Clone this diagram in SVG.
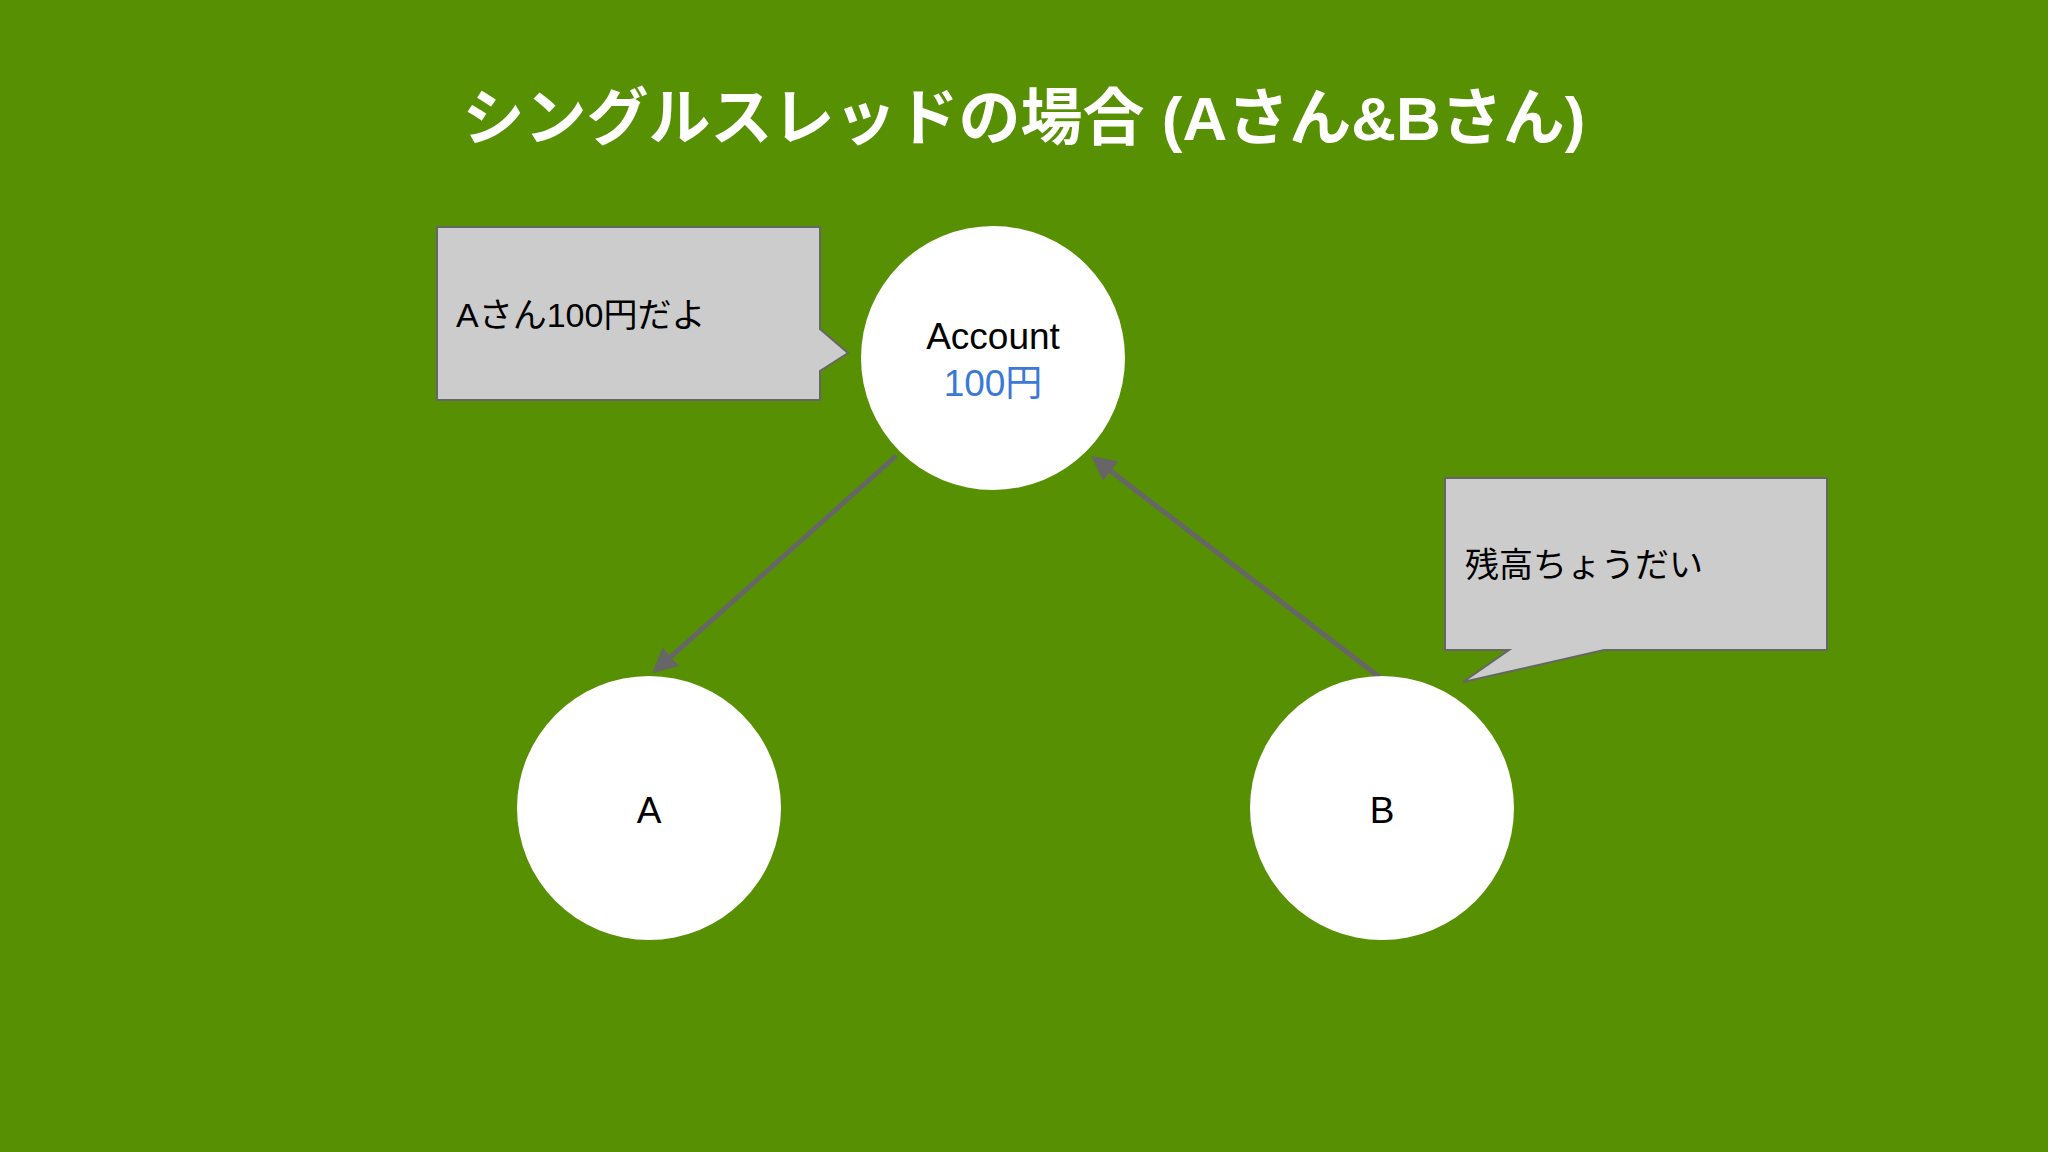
<svg xmlns="http://www.w3.org/2000/svg" width="2048" height="1152" viewBox="0 0 2048 1152">
<style>
.t{font-family:"Liberation Sans","Noto Sans CJK JP",sans-serif}
.c{fill:#fff}
.box{fill:#cccccc;stroke:#666;stroke-width:2}
.ln{stroke:#666;stroke-width:5;fill:none;marker-end:url(#ah)}
</style>
<defs><marker id="ah" viewBox="0 0 10 10" refX="8" refY="5" markerWidth="5" markerHeight="5" orient="auto"><path d="M0,0L10,5L0,10z" fill="#666"/></marker></defs>
<rect width="2048" height="1152" fill="#589003"/>
<text class="t" x="1024" y="140" text-anchor="middle" font-size="62" font-weight="bold" fill="#fff">シングルスレッドの場合 (Aさん&amp;Bさん)</text>
<g id="connectors">
<line class="ln" x1="896" y1="456" x2="656" y2="670"/>
<line class="ln" x1="1382" y1="679" x2="1095" y2="459"/>
</g>
<g id="callout1"><path class="box" d="M437,227H820V329L848,353L820,371V400H437Z"/><text class="t" x="456" y="327" font-size="34">Aさん100円だよ</text></g>
<g id="callout2"><path class="box" d="M1445,478H1827V650H1604L1463,682L1509,650H1445Z"/><text class="t" x="1465" y="577" font-size="34">残高ちょうだい</text></g>
<g id="account"><circle class="c" cx="993" cy="358" r="132"/><text class="t" x="993" y="349" text-anchor="middle" font-size="37">Account</text><text class="t" x="993" y="396" text-anchor="middle" font-size="37" fill="#3c78d8">100円</text></g>
<g id="A"><circle class="c" cx="649" cy="808" r="132"/><text class="t" x="649" y="823" text-anchor="middle" font-size="37">A</text></g>
<g id="B"><circle class="c" cx="1382" cy="808" r="132"/><text class="t" x="1382" y="823" text-anchor="middle" font-size="37">B</text></g>
</svg>
